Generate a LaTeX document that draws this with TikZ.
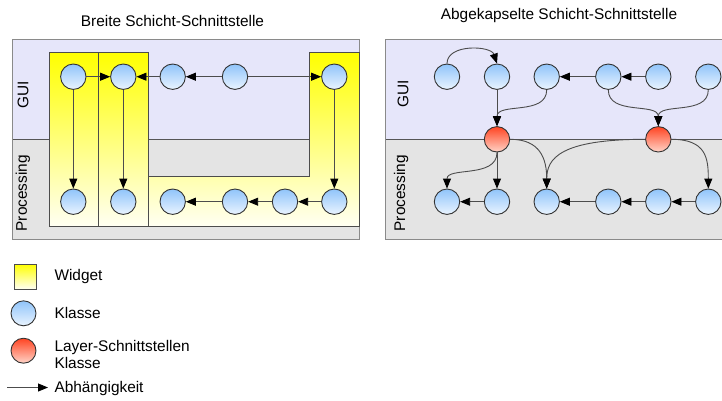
\documentclass[tikz,border=0pt]{standalone}
\usepackage{fontspec}
\setmainfont{Liberation Sans}
\usetikzlibrary{arrows.meta}
\definecolor{guibg}{HTML}{E6E6FA}
\definecolor{procbg}{HTML}{E4E4E4}
\definecolor{blueA}{HTML}{90C4FA}
\definecolor{blueB}{HTML}{EAF4FF}
\definecolor{redA}{HTML}{FF4422}
\definecolor{redB}{HTML}{FFD4C8}
\definecolor{wbot}{HTML}{FFFFF2}
\definecolor{frame}{HTML}{8A8A8A}
\definecolor{divider}{HTML}{555555}
\begin{document}
\begin{tikzpicture}[x=1pt,y=-1pt,
  klasse/.style={circle,draw=black!80,line width=0.9pt,minimum size=25.4pt,inner sep=0pt,top color=blueA,bottom color=blueB},
  layer/.style={klasse,top color=redA,bottom color=redB},
  dep/.style={draw=black!70,line width=0.9pt,-{Triangle[length=10pt,width=8pt,color=black]}},
  lbl/.style={font=\fontsize{15.4}{17}\selectfont,inner sep=0pt},
  widget/.style={draw=black!70,line width=0.8pt,top color=yellow,bottom color=wbot},
]
\useasboundingbox (0,0) rectangle (722,400);

% titles
\node[lbl,anchor=base west] (t1) at (80.7,26) {Breite Schicht-Schnittstelle};
\node[lbl,anchor=base west] (t2) at (440.7,19.3) {Abgekapselte Schicht-Schnittstelle};

% ---------- left panel ----------
\fill[guibg] (12,39.3) rectangle (359.3,139);
\fill[procbg] (12,139) rectangle (359.3,239.3);
\draw[divider,line width=0.9pt] (12,139) -- (359.3,139);
\draw[frame,line width=1pt] (12,39.3) rectangle (359.3,239.3);

\path[widget] (49,52.3) rectangle (98.3,226);
\path[widget] (98.3,52.3) rectangle (148.3,226);
\path[widget] (309.7,52.3) -- (359.3,52.3) -- (359.3,226) -- (148.3,226) -- (148.3,176.7) -- (309.7,176.7) -- cycle;

\node[lbl,rotate=90,anchor=base] (lg1) at (28.3,95) {GUI};
\node[lbl,rotate=90,anchor=base] (lp1) at (27,193.3) {Processing};

\node[klasse] (a1) at (73.3,76.7) {};
\node[klasse] (a2) at (123.3,76.7) {};
\node[klasse] (a3) at (172.7,76.7) {};
\node[klasse] (a4) at (235,76.7) {};
\node[klasse] (a5) at (334.3,76.7) {};
\node[klasse] (b1) at (73.3,201.7) {};
\node[klasse] (b2) at (123.3,201.7) {};
\node[klasse] (b3) at (172.7,201.7) {};
\node[klasse] (b4) at (235,201.7) {};
\node[klasse] (b5) at (285,201.7) {};
\node[klasse] (b6) at (334.3,201.7) {};

\draw[dep] (a1) -- (a2);
\draw[dep] (a3) -- (a2);
\draw[dep] (a4) -- (a3);
\draw[dep] (a4) -- (a5);
\draw[dep] (a1) -- (b1);
\draw[dep] (a2) -- (b2);
\draw[dep] (a5) -- (b6);
\draw[dep] (b6) -- (b5);
\draw[dep] (b5) -- (b4);
\draw[dep] (b4) -- (b3);

% ---------- right panel ----------
\fill[guibg] (385,39.3) rectangle (724,139);
\fill[procbg] (385,139) rectangle (724,239.3);
\draw[divider,line width=0.9pt] (385,139) -- (724,139);
\draw[frame,line width=1pt] (385,39.3) rectangle (724,239.3);

\node[lbl,rotate=90,anchor=base] (lg2) at (408.3,94) {GUI};
\node[lbl,rotate=90,anchor=base] (lp2) at (405,193.3) {Processing};

\node[klasse] (c1) at (447,76.7) {};
\node[klasse] (c2) at (497,76.7) {};
\node[klasse] (c3) at (546.7,76.7) {};
\node[klasse] (c4) at (608.3,76.7) {};
\node[klasse] (c5) at (658.3,76.7) {};
\node[klasse] (c6) at (708.3,76.7) {};
\node[layer] (r1) at (497,139.3) {};
\node[layer] (r2) at (658.3,139.3) {};
\node[klasse] (d1) at (447,201.7) {};
\node[klasse] (d2) at (497,201.7) {};
\node[klasse] (d3) at (546.7,201.7) {};
\node[klasse] (d4) at (608.3,201.7) {};
\node[klasse] (d5) at (658.3,201.7) {};
\node[klasse] (d6) at (708.3,201.7) {};

\draw[dep] (c1.north) .. controls +(0,-20) and +(-6,-18) .. (c2.north);
\draw[dep] (c2) -- (r1);
\draw[dep] (c3.south) .. controls +(0,26) and +(0,-24) .. (r1.north);
\draw[dep] (c4) -- (c3);
\draw[dep] (c5) -- (c4);
\draw[dep] (c4.south) .. controls +(0,26) and +(0,-24) .. (r2.north);
\draw[dep] (c6.south) .. controls +(0,26) and +(0,-24) .. (r2.north);
\draw[dep] (r1.east) .. controls +(30,0) and +(0,-30) .. (d3.north);
\draw[dep] (r2.west) .. controls +(-85,0) and +(0,-30) .. (d3.north);
\draw[dep] (r2.east) .. controls +(35,0) and +(0,-30) .. (d6.north);
\draw[dep] (r1) -- (d2);
\draw[dep] (r1.south) .. controls +(0,26) and +(0,-22) .. (d1.north);
\draw[dep] (d2) -- (d1);
\draw[dep] (d4) -- (d3);
\draw[dep] (d5) -- (d4);
\draw[dep] (d6) -- (d5);

% ---------- legend ----------
\path[widget] (14,264) rectangle (36,289);
\node[lbl,anchor=base west] (lw) at (54.3,280.7) {Widget};
\node[klasse,minimum size=25pt] (lk) at (23.5,313.3) {};
\node[lbl,anchor=base west] (lkt) at (54.3,318.3) {Klasse};
\node[layer,minimum size=25pt] (lr) at (23.5,350.7) {};
\node[lbl,anchor=base west] (lrt1) at (54.3,351.7) {Layer-Schnittstellen};
\node[lbl,anchor=base west] (lrt2) at (54.3,368.3) {Klasse};
\coordinate (la1) at (7,387.5);
\coordinate (la2) at (48,387.5);
\draw[dep] (la1) -- (la2);
\node[lbl,anchor=base west] (lat) at (54.3,392.7) {Abhängigkeit};
\end{tikzpicture}
\end{document}
